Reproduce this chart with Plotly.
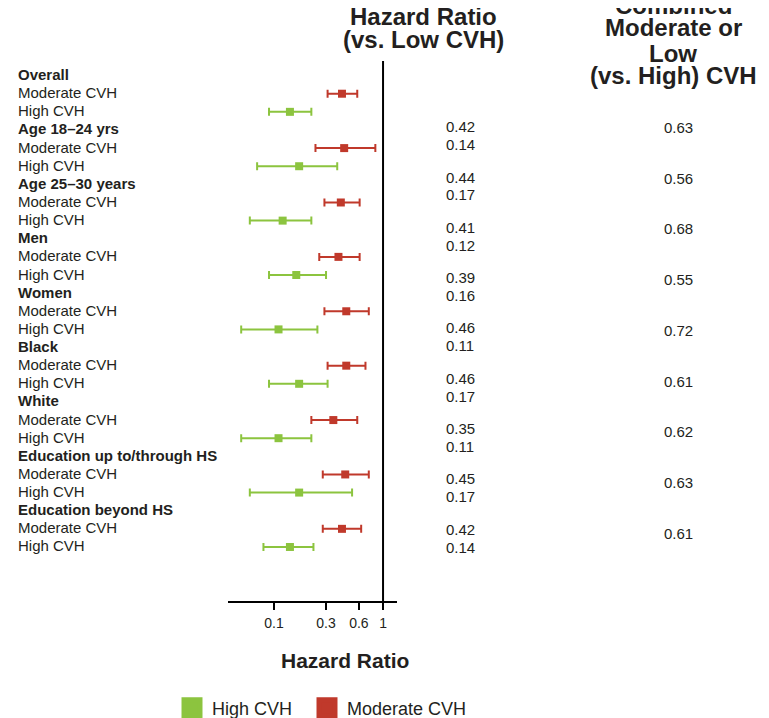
import plotly.graph_objects as go

# ---------------- data ----------------
groups = ["Overall", "Age 18–24 yrs", "Age 25–30 years", "Men", "Women",
          "Black", "White", "Education up to/through HS", "Education beyond HS"]
hr_moderate = [0.42, 0.44, 0.41, 0.39, 0.46, 0.46, 0.35, 0.45, 0.42]
moderate_lo = [0.31, 0.24, 0.29, 0.26, 0.29, 0.31, 0.22, 0.28, 0.28]
moderate_hi = [0.58, 0.85, 0.61, 0.61, 0.74, 0.69, 0.58, 0.74, 0.63]
hr_high = [0.14, 0.17, 0.12, 0.16, 0.11, 0.17, 0.11, 0.17, 0.14]
high_lo = [0.09, 0.07, 0.06, 0.09, 0.05, 0.09, 0.05, 0.06, 0.08]
high_hi = [0.22, 0.38, 0.22, 0.30, 0.25, 0.31, 0.22, 0.52, 0.23]
hr_combined = [0.63, 0.56, 0.68, 0.55, 0.72, 0.61, 0.62, 0.63, 0.61]
series_labels = ["Moderate CVH", "High CVH"]
tick_vals = [0.1, 0.3, 0.6, 1]
tick_text = ["0.1", "0.3", "0.6", "1"]

# ---------------- styling ----------------
RED = "#c0392b"
GREEN = "#8cc43f"
TXT = "#231f20"
FONT = "Liberation Sans, Arial, sans-serif"
W, H = 769, 740
OFF = 8  # page body margin
ML, MR, MT, MB = 220, 380, 53, 147
PW, PH = W - ML - MR, H - MT - MB


def px_x(px):
    return (px - OFF - ML) / PW


def px_y(py):
    return 1 - (py - OFF - MT) / PH


n = len(groups)
y_mod = [3 * g + 1 for g in range(n)]
y_high = [3 * g + 2 for g in range(n)]

fig = go.Figure()

fig.add_trace(go.Scatter(
    x=hr_moderate, y=y_mod, mode="markers", name="Moderate CVH", showlegend=False,
    marker=dict(symbol="square", size=8, color=RED),
    error_x=dict(type="data", symmetric=False,
                 array=[h - m for h, m in zip(moderate_hi, hr_moderate)],
                 arrayminus=[m - l for m, l in zip(hr_moderate, moderate_lo)],
                 color=RED, thickness=2, width=4),
))
fig.add_trace(go.Scatter(
    x=hr_high, y=y_high, mode="markers", name="High CVH", showlegend=False,
    marker=dict(symbol="square", size=8, color=GREEN),
    error_x=dict(type="data", symmetric=False,
                 array=[h - m for h, m in zip(high_hi, hr_high)],
                 arrayminus=[m - l for m, l in zip(hr_high, high_lo)],
                 color=GREEN, thickness=2, width=4),
))
# legend entries (one legend per entry so each can be placed)
for name, col, lg in [("High CVH", GREEN, "legend"), ("Moderate CVH", RED, "legend2")]:
    fig.add_trace(go.Scatter(
        x=[None], y=[None], mode="markers", name=name, showlegend=True, legend=lg,
        marker=dict(symbol="square", size=18, color=col, line=dict(color=col, width=6)),
    ))

ann = []
# row labels
for g, grp in enumerate(groups):
    ann.append(dict(x=px_x(16), xref="paper", y=3 * g, yref="y", text="<b>%s</b>" % grp,
                    xanchor="left", yanchor="middle", showarrow=False, yshift=1,
                    font=dict(size=15, color=TXT, family=FONT)))
    for k, lab in enumerate(series_labels):
        ann.append(dict(x=px_x(16), xref="paper", y=3 * g + 1 + k, yref="y", text=lab,
                        xanchor="left", yanchor="middle", showarrow=False, yshift=1,
                        font=dict(size=15, color=TXT, family=FONT)))
# value columns
for g in range(n):
    y1 = 126.7 + g * 50.3
    ann.append(dict(x=px_x(444), xref="paper", y=px_y(y1), yref="paper",
                    text="%.2f" % hr_moderate[g], xanchor="left", yanchor="middle",
                    showarrow=False, font=dict(size=15, color=TXT, family=FONT)))
    ann.append(dict(x=px_x(444), xref="paper", y=px_y(y1 + 18), yref="paper",
                    text="%.2f" % hr_high[g], xanchor="left", yanchor="middle",
                    showarrow=False, font=dict(size=15, color=TXT, family=FONT)))
    ann.append(dict(x=px_x(662), xref="paper", y=px_y(127.5 + g * 50.7), yref="paper",
                    text="%.2f" % hr_combined[g], xanchor="left", yanchor="middle",
                    showarrow=False, font=dict(size=15, color=TXT, family=FONT)))
# column headers
for txt, cx, cy in [("Hazard Ratio", 423.5, 16.5), ("(vs. Low CVH)", 423.5, 39.5),
                    ("Combined", 673.3, 6), ("Moderate or", 673.3, 27),
                    ("Low", 673.3, 53.3), ("(vs. High) CVH", 673.3, 75.8)]:
    ann.append(dict(x=px_x(cx), xref="paper", y=px_y(cy), yref="paper",
                    text="<b>%s</b>" % txt, xanchor="center", yanchor="middle",
                    showarrow=False, font=dict(size=24, color=TXT, family=FONT)))
# x-axis title
ann.append(dict(x=px_x(345), xref="paper", y=px_y(660.7), yref="paper",
                text="<b>Hazard Ratio</b>", xanchor="center", yanchor="middle",
                showarrow=False, font=dict(size=21, color=TXT, family=FONT)))

legend_common = dict(orientation="h", xanchor="left", yanchor="middle", y=px_y(708),
                     font=dict(size=18, color=TXT, family=FONT), bgcolor="rgba(0,0,0,0)")

fig.update_layout(
    width=W, height=H,
    margin=dict(l=ML, r=MR, t=MT, b=MB),
    paper_bgcolor="white", plot_bgcolor="white",
    font=dict(family=FONT, color=TXT),
    xaxis=dict(type="log", range=[-1.422, 0.128], tickvals=tick_vals, ticktext=tick_text,
               showline=True, linecolor="black", linewidth=2, ticks="outside",
               ticklen=7, tickwidth=2, tickcolor="black", showgrid=False, zeroline=False,
               ticklabelstandoff=1,
               tickfont=dict(size=14, color=TXT, family=FONT)),
    yaxis=dict(visible=False, range=[28.98, -0.804]),
    shapes=[dict(type="line", xref="x", x0=1, x1=1, yref="paper", y0=0, y1=1,
                 line=dict(color="black", width=2))],
    annotations=ann,
    legend=dict(x=px_x(172), **legend_common),
    legend2=dict(x=px_x(307), **legend_common),
)

fig.write_html("out.html")
